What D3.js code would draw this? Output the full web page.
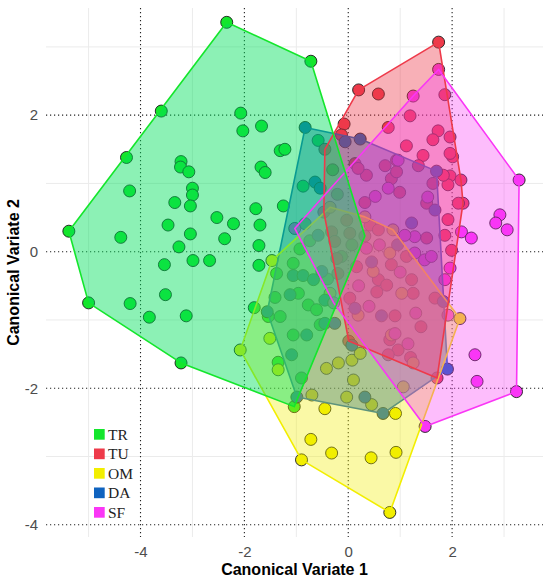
<!DOCTYPE html>
<html><head><meta charset="utf-8">
<script src="https://cdn.jsdelivr.net/npm/d3@7"></script>
<style>body{margin:0;background:#fff}svg{display:block}</style>
</head><body><svg id="c" width="550" height="581"></svg>
<script>
// ---- data (canonical variate 1, canonical variate 2) ----
const groups = ["TR", "TU", "OM", "DA", "SF"];

const TR = [[-2.34,3.36],[-3.60,2.06],[-2.07,2.03],[-2.03,1.77],[-1.67,1.84],[-4.27,1.38],[-4.21,0.89],
 [-3.22,1.32],[-3.23,1.24],[-3.07,1.17],[-3.00,0.93],[-3.00,0.83],[-3.34,0.72],[-3.04,0.67],[-1.68,1.24],
 [-1.60,1.16],[-1.31,1.48],[-1.22,1.50],[-1.78,0.63],[-1.25,0.67],[-0.87,0.96],[-0.58,1.63],[-2.53,0.50],
 [-2.21,0.41],[-3.47,0.39],[-3.04,0.26],[-2.38,0.19],[-1.70,0.39],[-5.38,0.30],[-4.38,0.21],[-3.26,0.07],
 [-1.72,0.09],[-3.54,-0.19],[-2.99,-0.13],[-2.67,-0.13],[-1.72,-0.20],[-3.52,-0.63],[-5.00,-0.75],
 [-4.20,-0.76],[-3.83,-0.96],[-3.12,-0.94],[-3.22,-1.63],[-1.81,-0.82],[-1.04,-2.27],[-0.72,2.79],
 [0.32,0.23],[-0.83,0.41],[-0.93,0.04],[-0.74,0.16],[-1.06,-0.17],[-1.38,-0.32],[-1.41,-0.67],
 [-0.96,-0.61],[-0.77,-0.78],[-0.61,-0.85],[-1.31,-0.95],[-1.06,-1.22],[-1.35,-1.62],[-1.54,-0.95],
 [-0.54,-1.07],[-0.13,-0.07],[0.07,0.10],[-0.21,0.84],[-0.30,1.20],[-0.40,-0.40],[-0.90,-1.85]];

const TU = [[1.74,3.07],[0.20,2.37],[0.58,2.31],[-0.08,1.87],[-0.13,1.71],[-0.45,1.50],[-0.47,0.58],
 [0.01,-1.31],[1.71,-1.85],[2.21,0.71],[2.01,1.39],[1.19,1.99],[0.77,1.82],[1.73,1.77],[1.63,1.64],
 [1.96,1.68],[1.12,1.55],[1.44,1.41],[1.96,1.44],[1.96,1.11],[2.17,1.05],[1.92,0.98],[1.86,2.30],
 [0.71,1.26],[0.93,1.34],[0.13,1.29],[0.35,1.12],[0.83,1.07],[0.99,0.87],[0.32,0.72],[1.63,1.00],
 [2.12,0.71],[1.92,0.47],[1.51,0.71],[1.35,1.26],[1.83,1.12],[0.93,1.17],[0.19,1.22],[1.86,0.24],
 [1.99,0.02],[0.42,0.39],[0.58,0.32],[1.51,0.20],[0.83,-0.19],[1.12,-0.07],[0.58,-0.41],[0.55,-0.59],
 [1.22,-0.41],[1.25,-0.61],[1.67,-0.68],[0.74,-0.49],[0.16,-0.22],[0.90,-0.94],[0.80,-1.29],
 [0.96,-1.44],[0.77,-1.51],[-0.32,0.29],[-0.26,0.15],[0.03,0.27],[-0.03,0.46],[-0.20,-0.32],
 [0.03,-0.68],[-0.22,-0.10],[1.40,-1.10],[1.20,-1.55]];

const OM = [[-1.47,-0.13],[-0.35,0.65],[0.32,0.51],[0.86,0.32],[2.15,-0.98],[0.80,-3.82],[-0.90,-3.05],
 [-2.08,-1.44],[-0.45,-2.30],[-0.72,-2.75],[-0.32,-2.95],[0.44,-3.02],[0.92,-2.94],[0.91,-2.37],
 [-0.42,-1.71],[-0.19,-1.63],[0.07,-1.59],[0.23,-1.49],[0.10,-1.88],[-0.03,-2.13],[0.45,-2.24],
 [-0.70,-2.10],[-1.51,-1.27],[-1.35,-1.73],[1.06,-1.98],[1.25,-1.63],[0.83,-1.22],[0.80,-0.02],
 [0.48,-0.29],[1.03,-0.61],[0.19,-0.93],[-0.35,-0.61]];

const DA = [[-0.83,1.82],[0.23,1.65],[-0.06,1.61],[1.70,1.18],[1.91,-1.72],[0.67,-2.37],[-0.99,-2.13],
 [-1.56,-0.88],[-0.64,1.02],[-0.54,0.93],[-0.58,0.24],[-0.51,-0.29],[-1.06,-0.35],[-0.87,-0.35],
 [-1.12,-0.63],[-0.67,-0.41],[-0.45,-0.71],[-0.80,-1.22],[-1.09,-1.51],[-0.45,-1.05],[-0.26,-1.05],
 [0.32,-2.13],[0.07,-1.37],[1.22,0.42],[1.83,-0.73],[0.13,-0.83],[1.67,0.61],[0.64,-0.94],
 [0.95,0.10],[0.45,-0.15]];

const SF = [[1.74,2.67],[1.25,2.28],[3.29,1.05],[3.24,-2.05],[1.48,-2.56],[-0.28,-0.75],[-1.03,0.34],
 [2.92,0.54],[2.84,0.42],[3.06,0.32],[2.18,0.29],[2.37,0.20],[1.96,-0.24],[2.44,-1.51],[2.48,-1.90],
 [0.77,0.93],[0.52,0.81],[0.96,1.34],[1.53,0.80],[1.86,-0.41],[1.47,-0.12],[1.60,-0.07],[1.28,-0.02],
 [1.28,0.22],[1.09,0.24],[1.92,-0.93],[1.00,-0.30],[0.40,-0.80],[0.90,-1.20],[0.20,-0.50],
 [1.30,-0.90],[0.60,0.10],[1.15,-1.35],[0.35,0.05]];

const majorTicks = [-4, -2, 0, 2];
const xMinor = [-5, -3, -1, 1, 3];
const yMinor = [-3, -1, 1, 3];
const xTitle = "Canonical Variate 1", yTitle = "Canonical Variate 2";

const groupData = {TR, TU, OM, DA, SF};

// ---- styles ----
const colors = {TR:"#14E62C", TU:"#EE3A4A", OM:"#F2EE00", DA:"#0F63BF", SF:"#FA36F6"};
const hullFill = {TR:"#00E05C", TU:"#EE3A4A", OM:"#F2EE00", DA:"#0F63BF", SF:"#FA36F6"};
const hullAlpha = {TR:0.45, TU:0.4, OM:0.35, DA:0.5, SF:0.33};

const svg = d3.select("#c");
const x = d3.scaleLinear().domain([-5.82, 3.75]).range([46, 543]);
const y = d3.scaleLinear().domain([-4.18, 3.57]).range([537, 8]);
const [x0, x1] = x.range(), [y0, y1] = y.range();

const grid = svg.append("g");
grid.selectAll(".vm").data(xMinor).join("line")
  .attr("x1", d => x(d)).attr("x2", d => x(d)).attr("y1", y1).attr("y2", y0)
  .attr("stroke", "#ebebeb").attr("stroke-width", 1);
grid.selectAll(".hm").data(yMinor).join("line")
  .attr("y1", d => y(d)).attr("y2", d => y(d)).attr("x1", x0).attr("x2", x1)
  .attr("stroke", "#ebebeb").attr("stroke-width", 1);
grid.selectAll(".vM").data(majorTicks).join("line")
  .attr("x1", d => x(d)).attr("x2", d => x(d)).attr("y1", y1).attr("y2", y0)
  .attr("stroke", "#222").attr("stroke-width", 1.1).attr("stroke-dasharray", "1.2,2.8");
grid.selectAll(".hM").data(majorTicks).join("line")
  .attr("y1", d => y(d)).attr("y2", d => y(d)).attr("x1", x0).attr("x2", x1)
  .attr("stroke", "#222").attr("stroke-width", 1.1).attr("stroke-dasharray", "1.2,2.8");

const xAxis = svg.append("g").attr("transform", `translate(0,${y0})`)
  .call(d3.axisBottom(x).tickValues(majorTicks).tickSize(0).tickPadding(9).tickFormat(d3.format("d")));
const yAxis = svg.append("g").attr("transform", `translate(${x0},0)`)
  .call(d3.axisLeft(y).tickValues(majorTicks).tickSize(0).tickPadding(8).tickFormat(d3.format("d")));
[xAxis, yAxis].forEach(a => {
  a.select(".domain").remove();
  a.selectAll("text").attr("font-family", "Liberation Sans, Arial, sans-serif")
    .attr("font-size", 15).attr("fill", "#4d4d4d")
    .text(d => d < 0 ? "-" + Math.abs(d) : d);
});

// points
const pts = svg.append("g");
groups.forEach(g => {
  pts.selectAll(".p" + g).data(groupData[g]).join("circle")
    .attr("cx", d => x(d[0])).attr("cy", d => y(d[1])).attr("r", 6)
    .attr("fill", colors[g]).attr("stroke", "#1a1a1a").attr("stroke-width", 0.9);
});

// hulls
const hullOf = g => d3.polygonHull(groupData[g].map(d => [x(d[0]), y(d[1])]));
const hulls = svg.append("g");
const drawHull = (g, fill, stroke) => {
  const h = hullOf(g);
  hulls.append("path").attr("d", "M" + h.join("L") + "Z")
    .attr("fill", fill ? hullFill[g] : "none").attr("fill-opacity", hullAlpha[g])
    .attr("stroke", stroke ? colors[g] : "none").attr("stroke-width", 1.6)
    .attr("stroke-linejoin", "round");
};
drawHull("DA", true, true);
drawHull("OM", true, true);
["TU", "SF", "TR"].forEach(g => drawHull(g, true, false));
["TU", "SF", "TR"].forEach(g => drawHull(g, false, true));

// axis titles
svg.append("text").attr("x", (x0 + x1) / 2).attr("y", 575).attr("text-anchor", "middle")
  .attr("font-family", "Liberation Sans, Arial, sans-serif").attr("font-weight", "bold")
  .attr("font-size", 16).attr("fill", "#000").text(xTitle);
svg.append("text").attr("transform", `translate(18.5,${(y0 + y1) / 2}) rotate(-90)`)
  .attr("text-anchor", "middle")
  .attr("font-family", "Liberation Sans, Arial, sans-serif").attr("font-weight", "bold")
  .attr("font-size", 16).attr("fill", "#000").text(yTitle);

// legend
const leg = svg.append("g").attr("transform", "translate(94,429)");
groups.forEach((g, i) => {
  leg.append("rect").attr("x", 0).attr("y", i * 19.5).attr("width", 10.7).attr("height", 10.7)
    .attr("fill", colors[g]);
  leg.append("text").attr("x", 14).attr("y", i * 19.5 + 10.5)
    .attr("font-family", "Liberation Serif, Times New Roman, serif").attr("font-size", 15.5)
    .attr("fill", "#222").text(g);
});
</script></body></html>
